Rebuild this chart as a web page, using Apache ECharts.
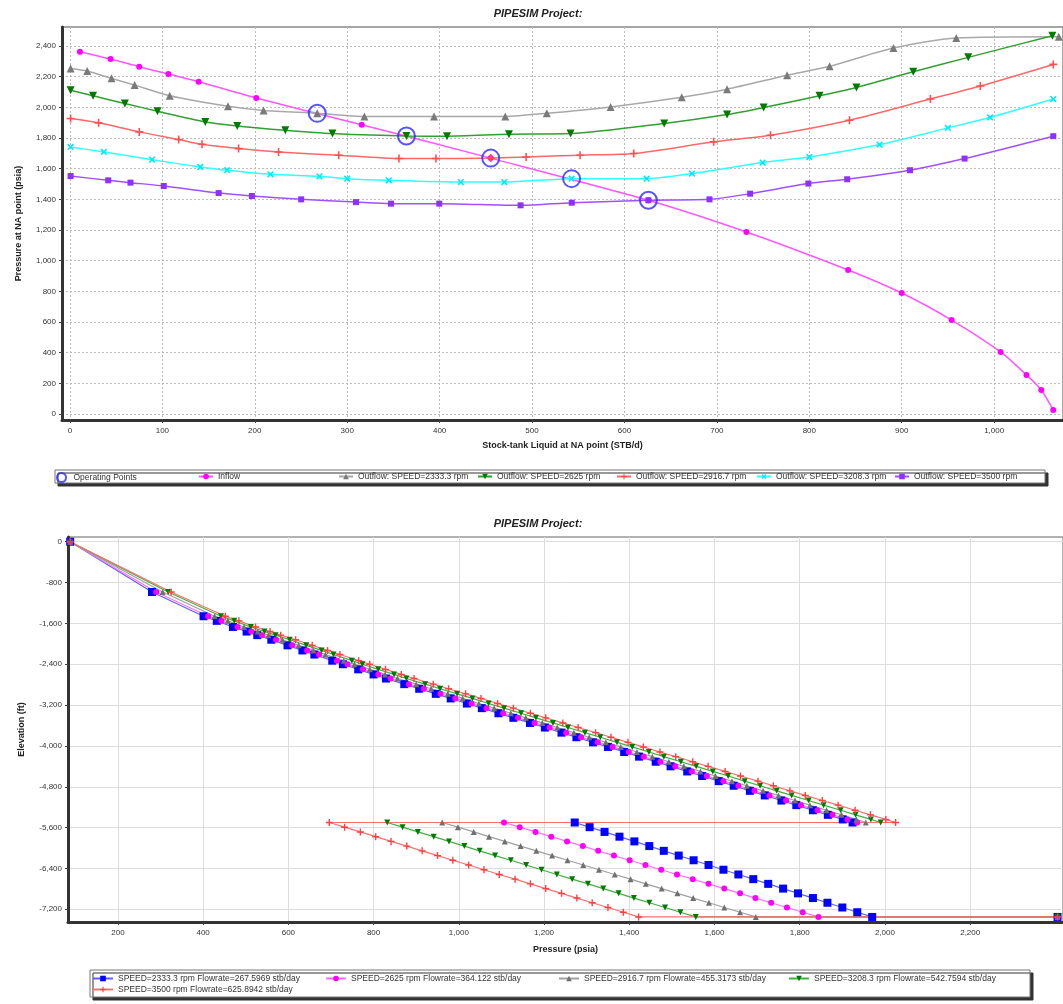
<!DOCTYPE html>
<html><head><meta charset="utf-8">
<script src="https://cdn.jsdelivr.net/npm/echarts@6/dist/echarts.min.js"></script>
<style>html,body{margin:0;padding:0;background:#fff}#c{width:1063px;height:1004px}</style>
</head><body><div id="c"></div>
<script>
// ---------- TOP CHART DATA (Stock-tank liquid STB/d vs pressure psia) ----------
const topXTicks = [0,100,200,300,400,500,600,700,800,900,1000];
const topYTicks = [0,200,400,600,800,1000,1200,1400,1600,1800,2000,2200,2400];

const opX = [267.6, 364.1, 455.3, 542.8, 625.9];
const opY = [1961, 1813, 1669, 1535, 1394];

const inflowX = [10.8, 44, 75, 106.6, 139.3, 201.6, 315.7, 455.3, 625.9, 732, 842, 900, 954, 1007, 1035, 1051, 1064];
const inflowY = [2363, 2315, 2265, 2217, 2167, 2061, 1887, 1669, 1394, 1187, 939, 789, 613, 405, 255, 157, 26];

const out2333X = [0.7, 18.7, 45, 70, 108, 171, 209.5, 267.6, 318.6, 394, 471, 516, 585, 662, 711, 776, 822, 891, 959, 1070];
const out2333Y = [2254, 2237, 2189, 2145, 2075, 2007, 1980, 1961, 1941, 1941, 1941, 1961, 2003, 2066, 2118, 2209, 2268, 2387, 2452, 2460];

const out2625X = [0.7, 25, 59.4, 94.7, 146.5, 181, 233, 284, 364.1, 408, 475, 541.7, 643, 711, 750.6, 811, 851, 912.5, 972, 1063];
const out2625Y = [2112, 2075, 2025, 1975, 1905, 1879, 1851, 1829, 1813, 1812, 1825, 1829, 1895, 1953, 1999, 2075, 2130, 2232, 2326, 2467];

const out2916X = [0.7, 31, 75, 117.7, 142.9, 182.5, 225.7, 290.8, 356, 396, 455.3, 493.6, 552, 610, 696.5, 758, 843.5, 931, 985, 1064];
const out2916Y = [1927, 1899, 1840, 1790, 1759, 1731, 1709, 1688, 1666, 1666, 1669, 1676, 1688, 1699, 1775, 1818, 1916, 2054, 2139, 2280];

const out3208X = [0.7, 36.7, 88.9, 141, 170, 217, 270, 300, 345, 423, 470, 542.8, 624, 673, 749.5, 800, 876, 950, 995.6, 1064];
const out3208Y = [1742, 1709, 1659, 1611, 1590, 1563, 1550, 1535, 1524, 1513, 1513, 1535, 1535, 1568, 1640, 1676, 1757, 1866, 1934, 2054];

const out3500X = [0.7, 41.4, 65.5, 101.5, 160.9, 196.9, 250.2, 309.5, 347.4, 399.6, 487.6, 543, 625.9, 692, 736, 799, 841, 909, 968, 1064];
const out3500Y = [1552, 1524, 1509, 1487, 1441, 1422, 1400, 1382, 1372, 1372, 1361, 1378, 1394, 1400, 1437, 1503, 1531, 1590, 1666, 1812];

// ---------- BOTTOM CHART DATA (pressure psia vs elevation ft) ----------
const botXTicks = [200,400,600,800,1000,1200,1400,1600,1800,2000,2200];
const botYTicks = [0,-800,-1600,-2400,-3200,-4000,-4800,-5600,-6400,-7200];

const upperDepth = [0, -985, -1460, -1550, -1670, -1760, -1830, -1920, -2030, -2130, -2210, -2330, -2400, -2500, -2600, -2680, -2790, -2880, -2980, -3070, -3170, -3260, -3360, -3450, -3550, -3640, -3740, -3830, -3930, -4020, -4120, -4210, -4310, -4400, -4500, -4590, -4690, -4780, -4880, -4970, -5070, -5160, -5260, -5350, -5440, -5500];
const lowerDepth = [-5500, -5592, -5685, -5778, -5870, -5962, -6055, -6148, -6240, -6332, -6425, -6518, -6610, -6702, -6795, -6888, -6980, -7072, -7165, -7258, -7350];
const reservoirPressure = 2405;
const reservoirDepth = -7350;

const p2333Upper = [88, 280, 401, 432, 470, 502, 527, 560, 598, 633, 661, 703, 728, 764, 800, 829, 872, 907, 946, 981, 1019, 1054, 1093, 1128, 1167, 1202, 1241, 1276, 1315, 1350, 1388, 1423, 1462, 1497, 1536, 1571, 1610, 1645, 1683, 1718, 1757, 1792, 1831, 1866, 1901, 1924];
const p2625Upper = [88, 290, 412, 443, 481, 513, 538, 571, 609, 644, 672, 714, 739, 775, 811, 840, 883, 918, 957, 992, 1030, 1065, 1104, 1139, 1178, 1213, 1252, 1287, 1326, 1361, 1399, 1434, 1473, 1508, 1547, 1582, 1621, 1656, 1694, 1729, 1768, 1803, 1842, 1877, 1912, 1935];
const p2916Upper = [88, 305, 427, 458, 496, 528, 553, 586, 624, 659, 687, 730, 755, 791, 827, 856, 900, 935, 974, 1009, 1047, 1083, 1122, 1157, 1196, 1231, 1270, 1306, 1345, 1380, 1418, 1454, 1493, 1528, 1567, 1602, 1641, 1676, 1714, 1750, 1789, 1824, 1863, 1898, 1933, 1955];
const p3208Upper = [88, 318, 442, 473, 512, 544, 570, 603, 642, 678, 706, 749, 774, 811, 848, 877, 921, 956, 996, 1032, 1070, 1106, 1146, 1181, 1221, 1256, 1296, 1332, 1371, 1407, 1446, 1481, 1521, 1557, 1596, 1632, 1671, 1707, 1746, 1781, 1821, 1856, 1896, 1931, 1967, 1990];
const p3500Upper = [88, 325, 452, 484, 523, 557, 582, 617, 656, 692, 721, 765, 791, 828, 865, 895, 940, 976, 1016, 1052, 1091, 1128, 1168, 1204, 1244, 1280, 1321, 1357, 1397, 1433, 1472, 1509, 1549, 1585, 1625, 1661, 1702, 1738, 1777, 1813, 1853, 1890, 1930, 1966, 2002, 2025];

const p2333Lower = [1272, 1307, 1342, 1377, 1412, 1447, 1481, 1516, 1551, 1586, 1621, 1656, 1691, 1726, 1761, 1796, 1831, 1865, 1900, 1935, 1970];
const p2625Lower = [1106, 1143, 1180, 1217, 1254, 1291, 1327, 1364, 1401, 1438, 1475, 1512, 1549, 1586, 1623, 1660, 1696, 1733, 1770, 1807, 1844];
const p2916Lower = [961, 998, 1035, 1071, 1108, 1145, 1182, 1219, 1255, 1292, 1329, 1366, 1403, 1439, 1476, 1513, 1550, 1587, 1623, 1660, 1697];
const p3208Lower = [832, 868, 904, 941, 977, 1013, 1049, 1085, 1122, 1158, 1194, 1230, 1266, 1303, 1339, 1375, 1411, 1447, 1484, 1520, 1556];
const p3500Lower = [696, 732, 769, 805, 841, 878, 914, 950, 986, 1023, 1059, 1095, 1132, 1168, 1204, 1241, 1277, 1313, 1350, 1386, 1422];

// ---------- helpers ----------
function fmt(v){ return String(Math.round(v)).replace(/\B(?=(\d{3})+(?!\d))/g, ','); }
function zip(xs, ys){ return xs.map((x,i)=>[x, ys[i]]); }
function profile(up, low){
  return zip(up, upperDepth).concat(zip(low, lowerDepth)).concat([[reservoirPressure, reservoirDepth]]);
}
const FONT = 'Liberation Sans';
const PLUS = 'path://M4,0h2v4h4v2h-4v4h-2v-4h-4v-2h4z';

function topLine(name, xs, ys, color, lineColor, symbol, size, rot){
  return { name, type:'line', xAxisIndex:0, yAxisIndex:0, data: zip(xs, ys),
    symbol, symbolSize:size, symbolRotate: rot||0, showSymbol:true, smooth:0.25,
    lineStyle:{color:lineColor, width:1.5}, itemStyle:{color}, emphasis:{disabled:true}, z:3 };
}
function botLine(name, up, low, color, lineColor, symbol, size, rot){
  return { name, type:'line', xAxisIndex:1, yAxisIndex:1, data: profile(up, low),
    symbol, symbolSize:size, symbolRotate: rot||0, showSymbol:true,
    lineStyle:{color:lineColor, width:1.2}, itemStyle:{color}, emphasis:{disabled:true}, z:3 };
}

const N_OP = 'Operating Points', N_IN = 'Inflow';
const N1 = 'Outflow: SPEED=2333.3 rpm', N2 = 'Outflow: SPEED=2625 rpm', N3 = 'Outflow: SPEED=2916.7 rpm', N4 = 'Outflow: SPEED=3208.3 rpm', N5 = 'Outflow: SPEED=3500 rpm';
const B1 = 'SPEED=2333.3 rpm Flowrate=267.5969 stb/day', B2 = 'SPEED=2625 rpm Flowrate=364.122 stb/day', B3 = 'SPEED=2916.7 rpm Flowrate=455.3173 stb/day', B4 = 'SPEED=3208.3 rpm Flowrate=542.7594 stb/day', B5 = 'SPEED=3500 rpm Flowrate=625.8942 stb/day';

function leg(name, left, top, w, h){
  return { data:[name], left, top, itemWidth:w, itemHeight:h, itemGap:0, padding:0, selectedMode:false,
    textStyle:{fontSize:8.5, color:'#333', fontFamily:FONT} };
}

const axisLab = {fontSize:8, color:'#333', fontFamily:FONT};
const nameStyle = {fontSize:9, fontWeight:'bold', color:'#222', fontFamily:FONT};

const option = {
  animation:false,
  backgroundColor:'#fff',
  title:[
    {text:'PIPESIM Project:', left:533, top:3, textAlign:'center', textStyle:{fontSize:11, fontWeight:'bold', fontStyle:'italic', color:'#222', fontFamily:FONT}},
    {text:'PIPESIM Project:', left:533, top:513, textAlign:'center', textStyle:{fontSize:11, fontWeight:'bold', fontStyle:'italic', color:'#222', fontFamily:FONT}}
  ],
  grid:[
    {left:62, top:27, width:1003, height:393, show:true, borderColor:'#888', borderWidth:1.5, backgroundColor:'#fff'},
    {left:68, top:537, width:997, height:385, show:true, borderColor:'#999', borderWidth:1.5, backgroundColor:'#fff'}
  ],
  xAxis:[
    {type:'value', gridIndex:0, min:-8.6, max:1074.5,
     axisLine:{show:true, onZero:false, lineStyle:{color:'#333', width:3}},
     axisTick:{show:true, customValues:topXTicks, length:3, lineStyle:{color:'#444'}},
     axisLabel:{customValues:topXTicks, formatter:fmt, margin:7, ...axisLab},
     splitLine:{show:true, lineStyle:{color:'#bbb', type:[2,2], width:1}},
     name:'Stock-tank Liquid at NA point (STB/d)', nameLocation:'middle', nameGap:21, nameTextStyle:nameStyle},
    {type:'value', gridIndex:1, min:82.9, max:2417.8,
     axisLine:{show:true, onZero:false, lineStyle:{color:'#333', width:3}},
     axisTick:{show:true, customValues:botXTicks, length:3, lineStyle:{color:'#444'}},
     axisLabel:{customValues:botXTicks, formatter:fmt, margin:7, ...axisLab},
     splitLine:{show:true, lineStyle:{color:'#ddd', width:1}},
     name:'Pressure (psia)', nameLocation:'middle', nameGap:23, nameTextStyle:nameStyle}
  ],
  yAxis:[
    {type:'value', gridIndex:0, min:-39, max:2524,
     axisLine:{show:true, onZero:false, lineStyle:{color:'#333', width:3}},
     axisTick:{show:true, customValues:topYTicks, length:3, lineStyle:{color:'#444'}},
     axisLabel:{customValues:topYTicks, formatter:fmt, margin:6, ...axisLab},
     splitLine:{show:true, lineStyle:{color:'#bbb', type:[2,2], width:1}},
     name:'Pressure at NA point (psia)', nameLocation:'middle', nameGap:39, nameTextStyle:nameStyle},
    {type:'value', gridIndex:1, min:-7449, max:92,
     axisLine:{show:true, onZero:false, lineStyle:{color:'#333', width:3}},
     axisTick:{show:true, customValues:botYTicks, length:3, lineStyle:{color:'#444'}},
     axisLabel:{customValues:botYTicks, formatter:fmt, margin:6, ...axisLab},
     splitLine:{show:true, lineStyle:{color:'#ddd', width:1}},
     name:'Elevation (ft)', nameLocation:'middle', nameGap:42, nameTextStyle:nameStyle}
  ],
  graphic:[
    {type:'rect', shape:{x:55, y:470, width:990, height:13}, style:{fill:'#fff', stroke:'#777', lineWidth:1, shadowColor:'#333', shadowOffsetX:3, shadowOffsetY:3, shadowBlur:0}, z:-1},
    {type:'rect', shape:{x:90, y:970, width:940, height:27}, style:{fill:'#fff', stroke:'#777', lineWidth:1, shadowColor:'#333', shadowOffsetX:3, shadowOffsetY:3, shadowBlur:0}, z:-1}
  ],
  legend:[
    leg(N_OP, 56, 472, 14, 9),
    leg(N_IN, 198, 472, 14, 7),
    leg(N1, 338, 472, 14, 7),
    leg(N2, 477, 472, 14, 7),
    leg(N3, 616, 472, 14, 7),
    leg(N4, 756, 472, 14, 7),
    leg(N5, 894, 472, 14, 7),
    leg(B1, 92, 974, 20, 7),
    leg(B2, 325, 974, 20, 7),
    leg(B3, 558, 974, 20, 7),
    leg(B4, 788, 974, 20, 7),
    leg(B5, 92, 985, 20, 7)
  ],
  series:[
    {name:N_OP, type:'scatter', xAxisIndex:0, yAxisIndex:0, data:zip(opX, opY), symbol:'circle', symbolSize:17,
     itemStyle:{color:'rgba(255,255,255,0)', borderColor:'#2a2aff', borderWidth:2}, emphasis:{disabled:true}, z:6},
    topLine(N_IN, inflowX, inflowY, '#ff00ff', '#ff55ff', 'circle', 6),
    topLine(N1, out2333X, out2333Y, '#7a7a7a', '#a8a8a8', 'triangle', 8),
    topLine(N2, out2625X, out2625Y, '#007a00', '#30a030', 'triangle', 8, 180),
    topLine(N3, out2916X, out2916Y, '#ff5050', '#ff6868', PLUS, 8),
    topLine(N4, out3208X, out3208Y, '#00e8ff', '#30ffff', PLUS, 8, 45),
    topLine(N5, out3500X, out3500Y, '#9030ff', '#a050ff', 'rect', 6),
    botLine(B1, p2333Upper, p2333Lower, '#0000ff', '#6060ff', 'rect', 8),
    botLine(B2, p2625Upper, p2625Lower, '#ff00ff', '#ff70ff', 'circle', 6),
    botLine(B3, p2916Upper, p2916Lower, '#707070', '#a0a0a0', 'triangle', 6),
    botLine(B4, p3208Upper, p3208Lower, '#007a00', '#40b040', 'triangle', 6, 180),
    botLine(B5, p3500Upper, p3500Lower, '#ff4040', '#ff7070', PLUS, 7)
  ]
};
const chart = echarts.init(document.getElementById('c'), null, {renderer:'canvas'});
chart.setOption(option);
</script></body></html>
